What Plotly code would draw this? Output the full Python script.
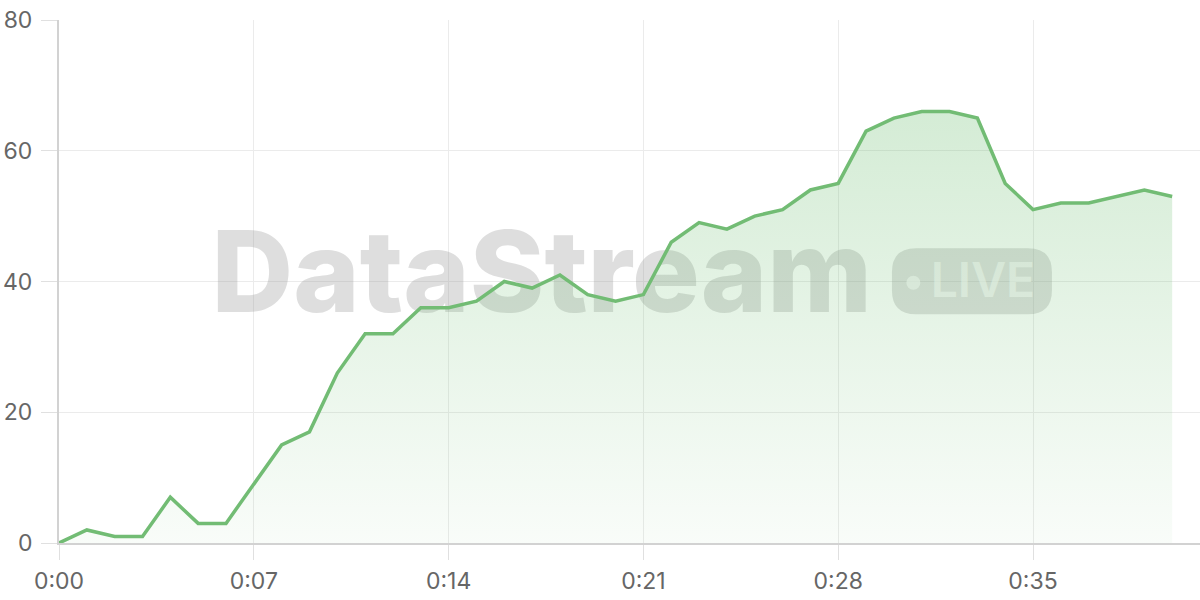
"""Live stream viewer curve with DataStream watermark."""

import plotly.graph_objects as go

# --- data ---
seconds = list(range(41))
viewers = [
    0, 2, 1, 1, 7, 3, 3, 9, 15, 17,
    26, 32, 32, 36, 36, 37, 40, 39, 41, 38,
    37, 38, 46, 49, 48, 50, 51, 54, 55, 63,
    65, 66, 66, 65, 55, 51, 52, 52, 53, 54,
    53,
]
x_tickvals = [0, 7, 14, 21, 28, 35]
x_ticktext = ["0:00", "0:07", "0:14", "0:21", "0:28", "0:35"]
y_tickvals = [0, 20, 40, 60, 80]

X_RANGE = [0, 41]
Y_RANGE = [0, 80]

LINE_COLOR = "rgb(114,188,116)"
GRID_COLOR = "#ebebeb"
AXIS_COLOR = "#d2d2d2"
TICK_FONT = dict(family="Inter", size=23, color="#666666")

fig = go.Figure()

# Watermark (drawn first so the area sits on top of it)
fig.add_trace(
    go.Scatter(
        x=[17.35],
        y=[39.6],
        mode="text",
        text=["DataStream"],
        textposition="middle center",
        textfont=dict(family="Inter", size=113, weight=800, color="rgba(150,150,150,0.31)"),
        showlegend=False,
        hoverinfo="skip",
    )
)
fig.add_trace(
    go.Scatter(
        x=[33.2],
        y=[39.4],
        mode="text",
        text=["LIVE"],
        textposition="middle center",
        textfont=dict(family="Inter", size=48, weight=600, color="rgba(255,255,255,0.6)"),
        showlegend=False,
        hoverinfo="skip",
    )
)

# Area series
fig.add_trace(
    go.Scatter(
        x=seconds,
        y=viewers,
        mode="lines",
        line=dict(color=LINE_COLOR, width=3.5),
        fill="tozeroy",
        fillgradient=dict(
            type="vertical",
            colorscale=[
                [0, "rgba(102,187,106,0.04)"],
                [1, "rgba(102,187,106,0.28)"],
            ],
        ),
        showlegend=False,
        hoverinfo="skip",
    )
)

# LIVE pill (rounded rect + dot), pixel-sized around an anchor in data space
pill_w, pill_h, r = 160, 66, 24
pill_path = (
    f"M {r},0 L {pill_w - r},0 Q {pill_w},0 {pill_w},{r} "
    f"L {pill_w},{pill_h - r} Q {pill_w},{pill_h} {pill_w - r},{pill_h} "
    f"L {r},{pill_h} Q 0,{pill_h} 0,{pill_h - r} L 0,{r} Q 0,0 {r},0 Z"
)
fig.add_shape(
    type="path",
    xref="x",
    yref="y",
    xsizemode="pixel",
    ysizemode="pixel",
    xanchor=29.93,
    yanchor=35.0,
    path=pill_path,
    fillcolor="rgba(150,150,150,0.3)",
    line=dict(width=0),
    layer="between",
)
fig.add_shape(
    type="circle",
    xref="x",
    yref="y",
    xsizemode="pixel",
    ysizemode="pixel",
    xanchor=30.7,
    yanchor=39.8,
    x0=-7,
    x1=7,
    y0=-7,
    y1=7,
    fillcolor="rgba(255,255,255,0.6)",
    line=dict(width=0),
    layer="between",
)

fig.update_xaxes(
    range=X_RANGE,
    tickvals=x_tickvals,
    ticktext=x_ticktext,
    showgrid=True,
    gridcolor=GRID_COLOR,
    gridwidth=1,
    showline=True,
    linecolor=AXIS_COLOR,
    linewidth=2,
    ticks="outside",
    ticklen=15,
    tickcolor="#e0e0e0",
    tickwidth=1,
    ticklabelstandoff=1,
    tickfont=TICK_FONT,
    zeroline=False,
    automargin=False,
)
fig.update_yaxes(
    range=Y_RANGE,
    tickvals=y_tickvals,
    showgrid=True,
    gridcolor=GRID_COLOR,
    gridwidth=1,
    showline=True,
    linecolor=AXIS_COLOR,
    linewidth=2,
    ticks="outside",
    ticklen=16,
    tickcolor="#e0e0e0",
    tickwidth=1,
    ticklabelstandoff=4,
    ticklabeloverflow="allow",
    tickfont=TICK_FONT,
    zeroline=False,
    automargin=False,
)

fig.update_layout(
    width=1200,
    height=600,
    margin=dict(l=59, r=0, t=20, b=57),
    plot_bgcolor="white",
    paper_bgcolor="white",
    showlegend=False,
)

# drop the default 8px body margin so the figure fills the window
fig.write_html(
    "out.html",
    config={"displayModeBar": False},
    post_script="document.body.style.margin = '0';",
)
